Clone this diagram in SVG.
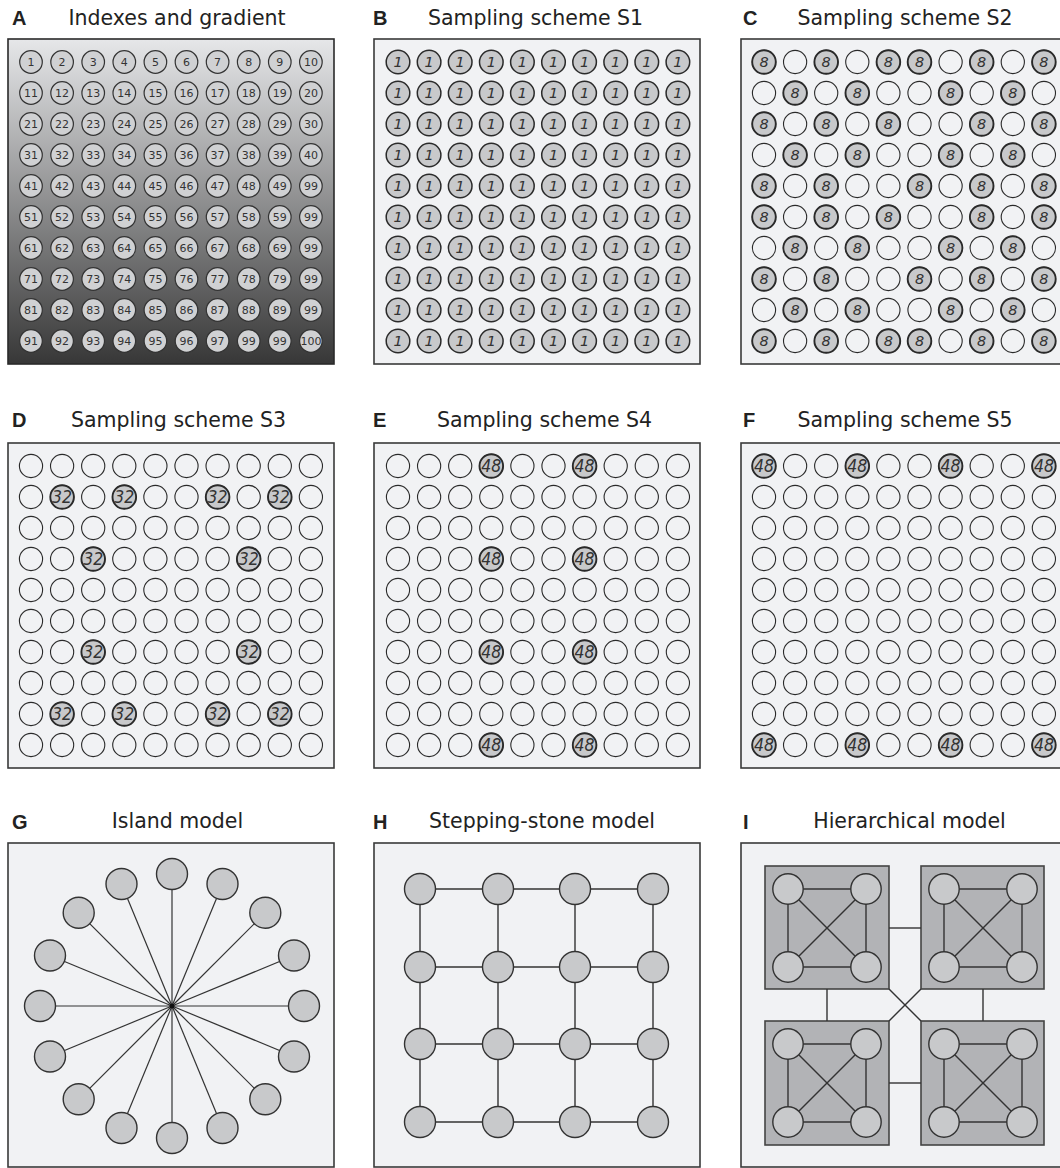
<svg xmlns="http://www.w3.org/2000/svg" width="1060" height="1168" viewBox="0 0 1060 1168">
<style>
.bg{fill:#ffffff}
.box{fill:#f1f2f4;stroke:#3a3a3a;stroke-width:1.6}
.lbl{font-family:"Liberation Sans",Arial,sans-serif;font-weight:bold;font-size:20px;fill:#222}
.ttl{font-family:"DejaVu Sans","Noto Sans",sans-serif;font-size:20.5px;fill:#222;text-anchor:middle}
.na{font-family:"DejaVu Sans","Noto Sans",sans-serif;font-size:11px;fill:#333;text-anchor:middle}
.edge{stroke:#333;stroke-width:1.4;fill:none}
.node{fill:#c8c9cb;stroke:#333;stroke-width:1.4}
.sq{fill:#b2b3b6;stroke:#444;stroke-width:1.6}
</style>
<defs>
<linearGradient id="gradA" x1="0" y1="0" x2="0" y2="1">
<stop offset="0" stop-color="#e6e7e9"/><stop offset="1" stop-color="#373737"/>
</linearGradient>
<circle id="ca" r="11.3" fill="#d0d1d3" stroke="#333" stroke-width="1.2"/>
<circle id="ce" r="11.6" fill="none" stroke="#2a2a2a" stroke-width="1.1"/>
<g id="c1"><circle r="11.8" fill="#c8c9cb" stroke="#2a2a2a" stroke-width="1.5"/><text y="5.2" font-family="DejaVu Sans, sans-serif" font-style="italic" font-size="14.5" fill="#333" text-anchor="middle">1</text></g>
<g id="c8"><circle r="11.8" fill="#c8c9cb" stroke="#2a2a2a" stroke-width="1.9"/><text y="5.2" font-family="DejaVu Sans, sans-serif" font-style="italic" font-size="14.5" fill="#333" text-anchor="middle">8</text></g>
<g id="c32"><circle r="11.8" fill="#c8c9cb" stroke="#2a2a2a" stroke-width="1.9"/><text y="6" font-family="DejaVu Sans, sans-serif" font-style="italic" font-size="17" fill="#333" text-anchor="middle" textLength="20" lengthAdjust="spacingAndGlyphs">32</text></g>
<g id="c48"><circle r="11.8" fill="#c8c9cb" stroke="#2a2a2a" stroke-width="1.9"/><text y="6" font-family="DejaVu Sans, sans-serif" font-style="italic" font-size="17" fill="#333" text-anchor="middle" textLength="20" lengthAdjust="spacingAndGlyphs">48</text></g>
<g id="rowA"><use href="#ca" x="0"/><use href="#ca" x="31.1"/><use href="#ca" x="62.2"/><use href="#ca" x="93.3"/><use href="#ca" x="124.4"/><use href="#ca" x="155.5"/><use href="#ca" x="186.6"/><use href="#ca" x="217.7"/><use href="#ca" x="248.8"/><use href="#ca" x="279.9"/></g>
<g id="rowE"><use href="#ce" x="0"/><use href="#ce" x="31.1"/><use href="#ce" x="62.2"/><use href="#ce" x="93.3"/><use href="#ce" x="124.4"/><use href="#ce" x="155.5"/><use href="#ce" x="186.6"/><use href="#ce" x="217.7"/><use href="#ce" x="248.8"/><use href="#ce" x="279.9"/></g>
<g id="rowB"><use href="#c1" x="0"/><use href="#c1" x="31.1"/><use href="#c1" x="62.2"/><use href="#c1" x="93.3"/><use href="#c1" x="124.4"/><use href="#c1" x="155.5"/><use href="#c1" x="186.6"/><use href="#c1" x="217.7"/><use href="#c1" x="248.8"/><use href="#c1" x="279.9"/></g>
<g id="gridE"><use href="#rowE" y="0"/><use href="#rowE" y="31"/><use href="#rowE" y="62"/><use href="#rowE" y="93"/><use href="#rowE" y="124"/><use href="#rowE" y="155"/><use href="#rowE" y="186"/><use href="#rowE" y="217"/><use href="#rowE" y="248"/><use href="#rowE" y="279"/></g>
</defs>
<rect class="bg" x="0" y="0" width="1060" height="1168"/>

<g id="panelA">
<text class="lbl" x="12" y="25">A</text>
<text class="ttl" x="177" y="25">Indexes and gradient</text>
<rect x="8" y="39" width="326" height="325" fill="url(#gradA)" stroke="#2a2a2a" stroke-width="1.6"/>
<g transform="translate(31,62)">
<use href="#rowA" y="0"/><use href="#rowA" y="31"/><use href="#rowA" y="62"/><use href="#rowA" y="93"/><use href="#rowA" y="124"/><use href="#rowA" y="155"/><use href="#rowA" y="186"/><use href="#rowA" y="217"/><use href="#rowA" y="248"/><use href="#rowA" y="279"/>
<text class="na" y="4"><tspan x="0">1</tspan><tspan x="31.1">2</tspan><tspan x="62.2">3</tspan><tspan x="93.3">4</tspan><tspan x="124.4">5</tspan><tspan x="155.5">6</tspan><tspan x="186.6">7</tspan><tspan x="217.7">8</tspan><tspan x="248.8">9</tspan><tspan x="279.9">10</tspan></text>
<text class="na" y="35"><tspan x="0">11</tspan><tspan x="31.1">12</tspan><tspan x="62.2">13</tspan><tspan x="93.3">14</tspan><tspan x="124.4">15</tspan><tspan x="155.5">16</tspan><tspan x="186.6">17</tspan><tspan x="217.7">18</tspan><tspan x="248.8">19</tspan><tspan x="279.9">20</tspan></text>
<text class="na" y="66"><tspan x="0">21</tspan><tspan x="31.1">22</tspan><tspan x="62.2">23</tspan><tspan x="93.3">24</tspan><tspan x="124.4">25</tspan><tspan x="155.5">26</tspan><tspan x="186.6">27</tspan><tspan x="217.7">28</tspan><tspan x="248.8">29</tspan><tspan x="279.9">30</tspan></text>
<text class="na" y="97"><tspan x="0">31</tspan><tspan x="31.1">32</tspan><tspan x="62.2">33</tspan><tspan x="93.3">34</tspan><tspan x="124.4">35</tspan><tspan x="155.5">36</tspan><tspan x="186.6">37</tspan><tspan x="217.7">38</tspan><tspan x="248.8">39</tspan><tspan x="279.9">40</tspan></text>
<text class="na" y="128"><tspan x="0">41</tspan><tspan x="31.1">42</tspan><tspan x="62.2">43</tspan><tspan x="93.3">44</tspan><tspan x="124.4">45</tspan><tspan x="155.5">46</tspan><tspan x="186.6">47</tspan><tspan x="217.7">48</tspan><tspan x="248.8">49</tspan><tspan x="279.9">99</tspan></text>
<text class="na" y="159"><tspan x="0">51</tspan><tspan x="31.1">52</tspan><tspan x="62.2">53</tspan><tspan x="93.3">54</tspan><tspan x="124.4">55</tspan><tspan x="155.5">56</tspan><tspan x="186.6">57</tspan><tspan x="217.7">58</tspan><tspan x="248.8">59</tspan><tspan x="279.9">99</tspan></text>
<text class="na" y="190"><tspan x="0">61</tspan><tspan x="31.1">62</tspan><tspan x="62.2">63</tspan><tspan x="93.3">64</tspan><tspan x="124.4">65</tspan><tspan x="155.5">66</tspan><tspan x="186.6">67</tspan><tspan x="217.7">68</tspan><tspan x="248.8">69</tspan><tspan x="279.9">99</tspan></text>
<text class="na" y="221"><tspan x="0">71</tspan><tspan x="31.1">72</tspan><tspan x="62.2">73</tspan><tspan x="93.3">74</tspan><tspan x="124.4">75</tspan><tspan x="155.5">76</tspan><tspan x="186.6">77</tspan><tspan x="217.7">78</tspan><tspan x="248.8">79</tspan><tspan x="279.9">99</tspan></text>
<text class="na" y="252"><tspan x="0">81</tspan><tspan x="31.1">82</tspan><tspan x="62.2">83</tspan><tspan x="93.3">84</tspan><tspan x="124.4">85</tspan><tspan x="155.5">86</tspan><tspan x="186.6">87</tspan><tspan x="217.7">88</tspan><tspan x="248.8">89</tspan><tspan x="279.9">99</tspan></text>
<text class="na" y="283"><tspan x="0">91</tspan><tspan x="31.1">92</tspan><tspan x="62.2">93</tspan><tspan x="93.3">94</tspan><tspan x="124.4">95</tspan><tspan x="155.5">96</tspan><tspan x="186.6">97</tspan><tspan x="217.7">99</tspan><tspan x="248.8">99</tspan><tspan x="279.9">100</tspan></text>
</g>
</g>

<g id="panelB">
<text class="lbl" x="373" y="25">B</text>
<text class="ttl" x="535.5" y="25">Sampling scheme S1</text>
<rect class="box" x="374" y="39" width="326" height="325"/>
<g transform="translate(398,62)">
<use href="#rowB" y="0"/><use href="#rowB" y="31"/><use href="#rowB" y="62"/><use href="#rowB" y="93"/><use href="#rowB" y="124"/><use href="#rowB" y="155"/><use href="#rowB" y="186"/><use href="#rowB" y="217"/><use href="#rowB" y="248"/><use href="#rowB" y="279"/>
</g>
</g>

<g id="panelC">
<text class="lbl" x="743" y="25">C</text>
<text class="ttl" x="905" y="25">Sampling scheme S2</text>
<rect class="box" x="741" y="39" width="326" height="325"/>
<g transform="translate(764,62)">
<use href="#gridE"/>
<use href="#c8" x="0" y="0"/><use href="#c8" x="62.2" y="0"/><use href="#c8" x="124.4" y="0"/><use href="#c8" x="155.5" y="0"/><use href="#c8" x="217.7" y="0"/><use href="#c8" x="279.9" y="0"/>
<use href="#c8" x="31.1" y="31"/><use href="#c8" x="93.3" y="31"/><use href="#c8" x="186.6" y="31"/><use href="#c8" x="248.8" y="31"/>
<use href="#c8" x="0" y="62"/><use href="#c8" x="62.2" y="62"/><use href="#c8" x="124.4" y="62"/><use href="#c8" x="217.7" y="62"/><use href="#c8" x="279.9" y="62"/>
<use href="#c8" x="31.1" y="93"/><use href="#c8" x="93.3" y="93"/><use href="#c8" x="186.6" y="93"/><use href="#c8" x="248.8" y="93"/>
<use href="#c8" x="0" y="124"/><use href="#c8" x="62.2" y="124"/><use href="#c8" x="155.5" y="124"/><use href="#c8" x="217.7" y="124"/><use href="#c8" x="279.9" y="124"/>
<use href="#c8" x="0" y="155"/><use href="#c8" x="62.2" y="155"/><use href="#c8" x="124.4" y="155"/><use href="#c8" x="217.7" y="155"/><use href="#c8" x="279.9" y="155"/>
<use href="#c8" x="31.1" y="186"/><use href="#c8" x="93.3" y="186"/><use href="#c8" x="186.6" y="186"/><use href="#c8" x="248.8" y="186"/>
<use href="#c8" x="0" y="217"/><use href="#c8" x="62.2" y="217"/><use href="#c8" x="155.5" y="217"/><use href="#c8" x="217.7" y="217"/><use href="#c8" x="279.9" y="217"/>
<use href="#c8" x="31.1" y="248"/><use href="#c8" x="93.3" y="248"/><use href="#c8" x="186.6" y="248"/><use href="#c8" x="248.8" y="248"/>
<use href="#c8" x="0" y="279"/><use href="#c8" x="62.2" y="279"/><use href="#c8" x="124.4" y="279"/><use href="#c8" x="155.5" y="279"/><use href="#c8" x="217.7" y="279"/><use href="#c8" x="279.9" y="279"/>
</g>
</g>

<g id="panelD">
<text class="lbl" x="12" y="427">D</text>
<text class="ttl" x="178.5" y="427">Sampling scheme S3</text>
<rect class="box" x="8" y="443" width="326" height="325"/>
<g transform="translate(31,466)">
<use href="#gridE"/>
<use href="#c32" x="31.1" y="31"/><use href="#c32" x="93.3" y="31"/><use href="#c32" x="186.6" y="31"/><use href="#c32" x="248.8" y="31"/>
<use href="#c32" x="62.2" y="93"/><use href="#c32" x="217.7" y="93"/>
<use href="#c32" x="62.2" y="186"/><use href="#c32" x="217.7" y="186"/>
<use href="#c32" x="31.1" y="248"/><use href="#c32" x="93.3" y="248"/><use href="#c32" x="186.6" y="248"/><use href="#c32" x="248.8" y="248"/>
</g>
</g>

<g id="panelE">
<text class="lbl" x="373" y="427">E</text>
<text class="ttl" x="544.5" y="427">Sampling scheme S4</text>
<rect class="box" x="374" y="443" width="326" height="325"/>
<g transform="translate(398,466)">
<use href="#gridE"/>
<use href="#c48" x="93.3" y="0"/><use href="#c48" x="186.6" y="0"/>
<use href="#c48" x="93.3" y="93"/><use href="#c48" x="186.6" y="93"/>
<use href="#c48" x="93.3" y="186"/><use href="#c48" x="186.6" y="186"/>
<use href="#c48" x="93.3" y="279"/><use href="#c48" x="186.6" y="279"/>
</g>
</g>

<g id="panelF">
<text class="lbl" x="743" y="427">F</text>
<text class="ttl" x="905" y="427">Sampling scheme S5</text>
<rect class="box" x="741" y="443" width="326" height="325"/>
<g transform="translate(764,466)">
<use href="#gridE"/>
<use href="#c48" x="0" y="0"/><use href="#c48" x="93.3" y="0"/><use href="#c48" x="186.6" y="0"/><use href="#c48" x="279.9" y="0"/>
<use href="#c48" x="0" y="279"/><use href="#c48" x="93.3" y="279"/><use href="#c48" x="186.6" y="279"/><use href="#c48" x="279.9" y="279"/>
</g>
</g>

<g id="panelG">
<text class="lbl" x="12" y="829">G</text>
<text class="ttl" x="177.5" y="828">Island model</text>
<rect class="box" x="8" y="843" width="326" height="324"/>
<g id="connectorsG" class="edge" style="stroke-width:1.2">
<line x1="172" y1="1006" x2="172" y2="874"/>
<line x1="172" y1="1006" x2="222.5" y2="884"/>
<line x1="172" y1="1006" x2="265.3" y2="912.7"/>
<line x1="172" y1="1006" x2="294" y2="955.5"/>
<line x1="172" y1="1006" x2="304" y2="1006"/>
<line x1="172" y1="1006" x2="294" y2="1056.5"/>
<line x1="172" y1="1006" x2="265.3" y2="1099.3"/>
<line x1="172" y1="1006" x2="222.5" y2="1128"/>
<line x1="172" y1="1006" x2="172" y2="1138"/>
<line x1="172" y1="1006" x2="121.5" y2="1128"/>
<line x1="172" y1="1006" x2="78.7" y2="1099.3"/>
<line x1="172" y1="1006" x2="50" y2="1056.5"/>
<line x1="172" y1="1006" x2="40" y2="1006"/>
<line x1="172" y1="1006" x2="50" y2="955.5"/>
<line x1="172" y1="1006" x2="78.7" y2="912.7"/>
<line x1="172" y1="1006" x2="121.5" y2="884"/>
</g>
<circle cx="172" cy="1006" r="2.5" fill="#111"/>
<g id="g-n0"><circle class="node" cx="172" cy="874" r="15.5"/></g>
<g id="g-n1"><circle class="node" cx="222.5" cy="884" r="15.5"/></g>
<g id="g-n2"><circle class="node" cx="265.3" cy="912.7" r="15.5"/></g>
<g id="g-n3"><circle class="node" cx="294" cy="955.5" r="15.5"/></g>
<g id="g-n4"><circle class="node" cx="304" cy="1006" r="15.5"/></g>
<g id="g-n5"><circle class="node" cx="294" cy="1056.5" r="15.5"/></g>
<g id="g-n6"><circle class="node" cx="265.3" cy="1099.3" r="15.5"/></g>
<g id="g-n7"><circle class="node" cx="222.5" cy="1128" r="15.5"/></g>
<g id="g-n8"><circle class="node" cx="172" cy="1138" r="15.5"/></g>
<g id="g-n9"><circle class="node" cx="121.5" cy="1128" r="15.5"/></g>
<g id="g-n10"><circle class="node" cx="78.7" cy="1099.3" r="15.5"/></g>
<g id="g-n11"><circle class="node" cx="50" cy="1056.5" r="15.5"/></g>
<g id="g-n12"><circle class="node" cx="40" cy="1006" r="15.5"/></g>
<g id="g-n13"><circle class="node" cx="50" cy="955.5" r="15.5"/></g>
<g id="g-n14"><circle class="node" cx="78.7" cy="912.7" r="15.5"/></g>
<g id="g-n15"><circle class="node" cx="121.5" cy="884" r="15.5"/></g>
</g>

<g id="panelH">
<text class="lbl" x="373" y="829">H</text>
<text class="ttl" x="542" y="828">Stepping-stone model</text>
<rect class="box" x="374" y="843" width="326" height="324"/>
<g id="connectorsH" class="edge">
<line x1="420" y1="889" x2="498" y2="889"/><line x1="498" y1="889" x2="575" y2="889"/><line x1="575" y1="889" x2="653" y2="889"/>
<line x1="420" y1="967" x2="498" y2="967"/><line x1="498" y1="967" x2="575" y2="967"/><line x1="575" y1="967" x2="653" y2="967"/>
<line x1="420" y1="1044" x2="498" y2="1044"/><line x1="498" y1="1044" x2="575" y2="1044"/><line x1="575" y1="1044" x2="653" y2="1044"/>
<line x1="420" y1="1122" x2="498" y2="1122"/><line x1="498" y1="1122" x2="575" y2="1122"/><line x1="575" y1="1122" x2="653" y2="1122"/>
<line x1="420" y1="889" x2="420" y2="967"/><line x1="420" y1="967" x2="420" y2="1044"/><line x1="420" y1="1044" x2="420" y2="1122"/>
<line x1="498" y1="889" x2="498" y2="967"/><line x1="498" y1="967" x2="498" y2="1044"/><line x1="498" y1="1044" x2="498" y2="1122"/>
<line x1="575" y1="889" x2="575" y2="967"/><line x1="575" y1="967" x2="575" y2="1044"/><line x1="575" y1="1044" x2="575" y2="1122"/>
<line x1="653" y1="889" x2="653" y2="967"/><line x1="653" y1="967" x2="653" y2="1044"/><line x1="653" y1="1044" x2="653" y2="1122"/>
</g>
<g id="h-n00"><circle class="node" cx="420" cy="889" r="15.5"/></g>
<g id="h-n01"><circle class="node" cx="498" cy="889" r="15.5"/></g>
<g id="h-n02"><circle class="node" cx="575" cy="889" r="15.5"/></g>
<g id="h-n03"><circle class="node" cx="653" cy="889" r="15.5"/></g>
<g id="h-n10"><circle class="node" cx="420" cy="967" r="15.5"/></g>
<g id="h-n11"><circle class="node" cx="498" cy="967" r="15.5"/></g>
<g id="h-n12"><circle class="node" cx="575" cy="967" r="15.5"/></g>
<g id="h-n13"><circle class="node" cx="653" cy="967" r="15.5"/></g>
<g id="h-n20"><circle class="node" cx="420" cy="1044" r="15.5"/></g>
<g id="h-n21"><circle class="node" cx="498" cy="1044" r="15.5"/></g>
<g id="h-n22"><circle class="node" cx="575" cy="1044" r="15.5"/></g>
<g id="h-n23"><circle class="node" cx="653" cy="1044" r="15.5"/></g>
<g id="h-n30"><circle class="node" cx="420" cy="1122" r="15.5"/></g>
<g id="h-n31"><circle class="node" cx="498" cy="1122" r="15.5"/></g>
<g id="h-n32"><circle class="node" cx="575" cy="1122" r="15.5"/></g>
<g id="h-n33"><circle class="node" cx="653" cy="1122" r="15.5"/></g>
</g>

<g id="panelI">
<text class="lbl" x="743" y="829">I</text>
<text class="ttl" x="909.5" y="828">Hierarchical model</text>
<rect class="box" x="741" y="843" width="326" height="324"/>
<g id="i-deme-tl"><rect class="sq" x="765" y="866" width="124" height="123"/></g>
<g id="i-deme-tr"><rect class="sq" x="921" y="866" width="123" height="123"/></g>
<g id="i-deme-bl"><rect class="sq" x="765" y="1021" width="124" height="124"/></g>
<g id="i-deme-br"><rect class="sq" x="921" y="1021" width="123" height="124"/></g>
<g id="connectorsI" class="edge">
<line x1="889" y1="928" x2="921" y2="928"/>
<line x1="889" y1="1083" x2="921" y2="1083"/>
<line x1="827" y1="989" x2="827" y2="1021"/>
<line x1="983" y1="989" x2="983" y2="1021"/>
<line x1="889" y1="989" x2="921" y2="1021"/>
<line x1="921" y1="989" x2="889" y2="1021"/>
<line x1="788" y1="889" x2="866" y2="889"/><line x1="788" y1="967" x2="866" y2="967"/><line x1="788" y1="889" x2="788" y2="967"/><line x1="866" y1="889" x2="866" y2="967"/><line x1="788" y1="889" x2="866" y2="967"/><line x1="866" y1="889" x2="788" y2="967"/>
<line x1="944" y1="889" x2="1022" y2="889"/><line x1="944" y1="967" x2="1022" y2="967"/><line x1="944" y1="889" x2="944" y2="967"/><line x1="1022" y1="889" x2="1022" y2="967"/><line x1="944" y1="889" x2="1022" y2="967"/><line x1="1022" y1="889" x2="944" y2="967"/>
<line x1="788" y1="1044" x2="866" y2="1044"/><line x1="788" y1="1122" x2="866" y2="1122"/><line x1="788" y1="1044" x2="788" y2="1122"/><line x1="866" y1="1044" x2="866" y2="1122"/><line x1="788" y1="1044" x2="866" y2="1122"/><line x1="866" y1="1044" x2="788" y2="1122"/>
<line x1="944" y1="1044" x2="1022" y2="1044"/><line x1="944" y1="1122" x2="1022" y2="1122"/><line x1="944" y1="1044" x2="944" y2="1122"/><line x1="1022" y1="1044" x2="1022" y2="1122"/><line x1="944" y1="1044" x2="1022" y2="1122"/><line x1="1022" y1="1044" x2="944" y2="1122"/>
</g>
<g id="i-tl-1"><circle class="node" cx="788" cy="889" r="15.2"/></g>
<g id="i-tl-2"><circle class="node" cx="866" cy="889" r="15.2"/></g>
<g id="i-tl-3"><circle class="node" cx="788" cy="967" r="15.2"/></g>
<g id="i-tl-4"><circle class="node" cx="866" cy="967" r="15.2"/></g>
<g id="i-tr-1"><circle class="node" cx="944" cy="889" r="15.2"/></g>
<g id="i-tr-2"><circle class="node" cx="1022" cy="889" r="15.2"/></g>
<g id="i-tr-3"><circle class="node" cx="944" cy="967" r="15.2"/></g>
<g id="i-tr-4"><circle class="node" cx="1022" cy="967" r="15.2"/></g>
<g id="i-bl-1"><circle class="node" cx="788" cy="1044" r="15.2"/></g>
<g id="i-bl-2"><circle class="node" cx="866" cy="1044" r="15.2"/></g>
<g id="i-bl-3"><circle class="node" cx="788" cy="1122" r="15.2"/></g>
<g id="i-bl-4"><circle class="node" cx="866" cy="1122" r="15.2"/></g>
<g id="i-br-1"><circle class="node" cx="944" cy="1044" r="15.2"/></g>
<g id="i-br-2"><circle class="node" cx="1022" cy="1044" r="15.2"/></g>
<g id="i-br-3"><circle class="node" cx="944" cy="1122" r="15.2"/></g>
<g id="i-br-4"><circle class="node" cx="1022" cy="1122" r="15.2"/></g>
</g>
</svg>
